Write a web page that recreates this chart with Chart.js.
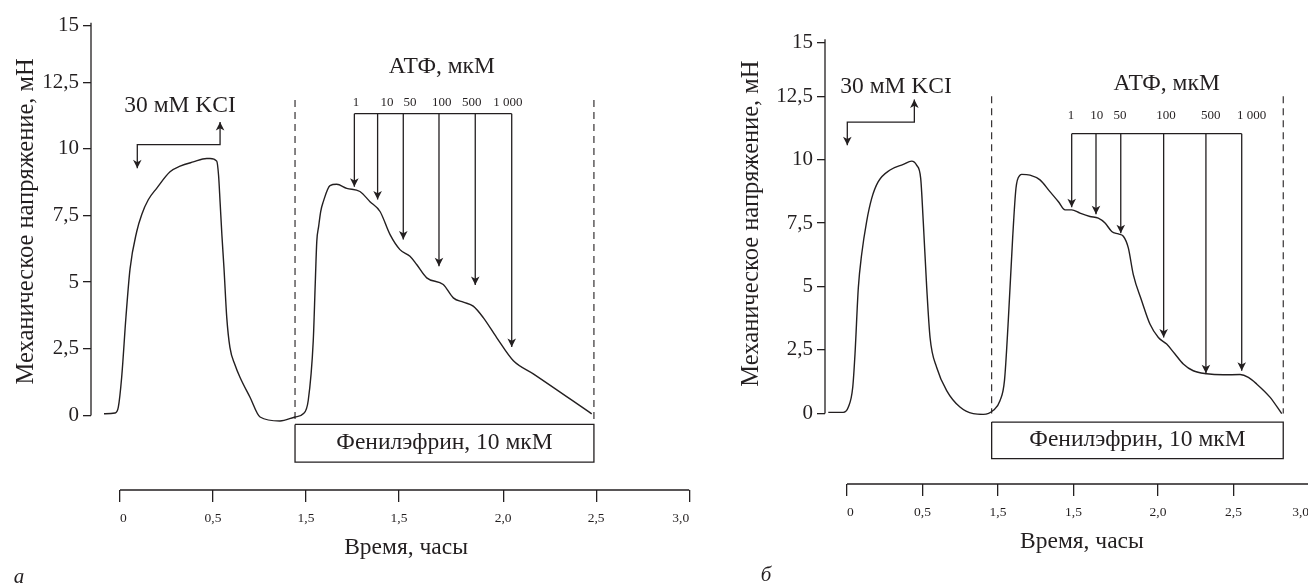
<!DOCTYPE html>
<html><head><meta charset="utf-8">
<script src="https://cdn.jsdelivr.net/npm/chart.js@4.4.1/dist/chart.umd.min.js"></script>
<style>
html,body{margin:0;padding:0;background:#fff;overflow:hidden;width:1308px;height:584px;position:relative;}
#wa{position:absolute;left:0;top:0;width:700px;height:584px;}
#wb{position:absolute;left:700px;top:0;width:620px;height:584px;}
</style></head><body>
<div id="wa"><canvas id="ca"></canvas></div>
<div id="wb"><canvas id="cb"></canvas></div>
<script>
// ---- tick labels ----
const xTickValues = [0, 0.5, 1.0, 1.5, 2.06, 2.56, 3.06];
const xTickLabels = ['0', '0,5', '1,5', '1,5', '2,0', '2,5', '3,0'];
const yTickValues = [0, 2.5, 5, 7.5, 10, 12.5, 14.62];
const yTickLabels = ['0', '2,5', '5', '7,5', '10', '12,5', '15'];
const atpConcLabels = ['1', '10', '50', '100', '500', '1 000'];

// ---- panel а : tension trace ----
const leftTime = [-0.086,-0.027,-0.009,0.009,0.032,0.054,0.090,0.117,0.152,0.197,0.269,0.323,0.394,0.466,0.484,0.520,0.530,0.538,0.548,0.559,0.574,0.591,0.618,0.645,0.699,0.753,0.860,0.941,0.985,1.012,1.039,1.050,1.058,1.068,1.079,1.093,1.129,1.165,1.219,1.290,1.344,1.398,1.452,1.505,1.559,1.595,1.649,1.738,1.792,1.846,1.899,1.953,2.025,2.115,2.222,2.536];
const leftTension = [0.06,0.09,0.31,1.43,3.69,5.5,6.90,7.54,8.09,8.52,9.14,9.35,9.51,9.64,9.64,9.54,9.0,8.02,6.75,5.53,3.67,2.55,1.9,1.43,0.68,-0.06,-0.21,-0.06,0.06,0.56,2.80,5.0,6.53,7.09,7.65,8.02,8.62,8.67,8.52,8.40,8.02,7.65,6.78,6.22,5.97,5.66,5.16,4.91,4.41,4.25,4.10,3.67,2.92,2.05,1.56,0.06];
const leftKclTime = [0.093, 0.538];
const leftPheTime = [0.941, 2.548];
const leftAtpTime = [1.260, 1.385, 1.523, 1.715, 1.910, 2.106];
const leftAtpTip = [8.58, 8.10, 6.60, 5.60, 4.89, 2.57];

// ---- panel б : tension trace ----
const rightTime = [-0.124,-0.025,0.009,0.038,0.053,0.075,0.097,0.130,0.164,0.207,0.285,0.373,0.428,0.461,0.488,0.505,0.528,0.550,0.594,0.660,0.748,0.836,0.903,0.969,1.013,1.043,1.068,1.097,1.119,1.146,1.157,1.212,1.278,1.344,1.399,1.444,1.488,1.543,1.609,1.664,1.709,1.753,1.797,1.830,1.863,1.896,1.952,2.007,2.062,2.117,2.172,2.227,2.293,2.382,2.492,2.603,2.658,2.713,2.801,2.879];
const rightTension = [0.04,0.04,0.25,1.03,2.34,4.95,6.26,7.56,8.48,9.13,9.59,9.81,9.94,9.78,9.26,7.56,4.95,2.99,1.81,0.90,0.25,-0.01,-0.04,0.12,0.5,1.3,3.64,6.91,8.87,9.39,9.42,9.39,9.20,8.74,8.35,8.02,8.02,7.89,7.76,7.69,7.50,7.17,7.07,6.98,6.52,5.47,4.43,3.51,2.99,2.73,2.34,1.95,1.68,1.56,1.52,1.53,1.42,1.16,0.64,-0.01];
const rightKclTime = [0.002, 0.446];
const rightPheTime = [0.958, 2.889];
const rightAtpTime = [1.488, 1.649, 1.813, 2.097, 2.377, 2.614];
const rightAtpTip = [8.12, 7.85, 7.10, 2.99, 1.58, 1.68];

const FONT = "'Liberation Serif', 'DejaVu Serif', serif";
const INK = '#231f20';
const BIG = 23.5, TITLE = 24.5;

const leftPanel = {
  time: leftTime, tension: leftTension, kclTime: leftKclTime, pheTime: leftPheTime,
  atpTime: leftAtpTime, atpTip: leftAtpTip,
  xMin: -0.15591, xMax: 3.06452, yMin: -2.799, yMax: 14.963,
  yAxisWidth: 91, xAxisHeight: 94, padRight: 10,
  dashTop: 11.83, dashBottom: -0.2, boxTop: -0.34, boxBottom: -1.75,
  atpBracketY: 11.32, concLabelY: 11.75, concLabelX: [1.269, 1.435, 1.559, 1.730, 1.891, 2.086],
  atpTitle: {x: 1.73, y: 13.06},
  kclBracketY: 10.16, kclDownTip: 9.27, kclUpTip: 11.01, kclText: {x: 0.323, y: 11.63},
  xTitleX: 1.538, xTitleDy: 58, yTitleDx: -64, yTitleY: 7.28,
  letter: 'а', letterX: 19, letterY: 577
};
const rightPanel = {
  time: rightTime, tension: rightTension, kclTime: rightKclTime, pheTime: rightPheTime,
  atpTime: rightAtpTime, atpTip: rightAtpTip,
  xMin: -0.14570, xMax: 3.09934, yMin: -2.782, yMax: 15.635,
  yAxisWidth: 125, xAxisHeight: 100, padRight: 5,
  dashTop: 12.5, dashBottom: 0, boxTop: -0.34, boxBottom: -1.78,
  atpBracketY: 11.02, concLabelY: 11.72, concLabelX: [1.483, 1.654, 1.808, 2.113, 2.409, 2.680],
  atpTitle: {x: 2.117, y: 12.98},
  kclBracketY: 11.48, kclDownTip: 10.57, kclUpTip: 12.37, kclText: {x: 0.325, y: 12.85},
  xTitleX: 1.556, xTitleDy: 58, yTitleDx: -73, yTitleY: 7.48,
  letter: 'б', letterX: 66, letterY: 575
};

function arrowHead(ctx, tx, ty, fx, fy) {
  let dx = tx - fx, dy = ty - fy;
  const len = Math.hypot(dx, dy) || 1; dx /= len; dy /= len;
  const L = 8.5, W = 4.3, N = 2.3;
  const bx = tx - dx * L, by = ty - dy * L, nx = -dy, ny = dx;
  ctx.beginPath();
  ctx.moveTo(tx, ty);
  ctx.lineTo(bx + nx * W, by + ny * W);
  ctx.lineTo(tx - dx * (L - N), ty - dy * (L - N));
  ctx.lineTo(bx - nx * W, by - ny * W);
  ctx.closePath();
  ctx.fill();
}

function makeDecor(P) {
  return {
    id: 'panelDecor',
    afterDatasetsDraw(chart) {
      const ctx = chart.ctx, xs = chart.scales.x, ys = chart.scales.y, ca = chart.chartArea;
      ctx.save();
      ctx.strokeStyle = INK; ctx.fillStyle = INK; ctx.lineWidth = 1.3;
      // axis lines
      ctx.beginPath();
      ctx.moveTo(ca.left, ys.getPixelForValue(yTickValues[0]));
      ctx.lineTo(ca.left, ys.getPixelForValue(yTickValues[yTickValues.length - 1]) - 3);
      ctx.moveTo(xs.getPixelForValue(xTickValues[0]), ca.bottom);
      ctx.lineTo(xs.getPixelForValue(xTickValues[xTickValues.length - 1]), ca.bottom);
      ctx.stroke();
      // arrowheads
      chart.data.datasets.forEach((ds, i) => {
        const pts = chart.getDatasetMeta(i).data;
        if (ds.arrowEnd) { const a = pts[pts.length - 1], b = pts[pts.length - 2]; arrowHead(ctx, a.x, a.y, b.x, b.y); }
        if (ds.arrowStart) { const a = pts[0], b = pts[1]; arrowHead(ctx, a.x, a.y, b.x, b.y); }
      });
      // texts
      ctx.textAlign = 'center'; ctx.textBaseline = 'middle';
      const X = v => xs.getPixelForValue(v), Y = v => ys.getPixelForValue(v);
      ctx.font = BIG + 'px ' + FONT;
      ctx.fillText('30 мМ KCI', X(P.kclText.x), Y(P.kclText.y));
      ctx.fillText('АТФ, мкМ', X(P.atpTitle.x), Y(P.atpTitle.y));
      ctx.fillText('Фенилэфрин, 10 мкМ', X((P.pheTime[0] + P.pheTime[1]) / 2), Y((P.boxTop + P.boxBottom) / 2));
      ctx.fillText('Время, часы', X(P.xTitleX), ca.bottom + P.xTitleDy);
      ctx.font = '13px ' + FONT;
      atpConcLabels.forEach((t, i) => ctx.fillText(t, X(P.concLabelX[i]), Y(P.concLabelY)));
      ctx.save();
      ctx.font = TITLE + 'px ' + FONT;
      ctx.translate(ca.left + P.yTitleDx, Y(P.yTitleY));
      ctx.rotate(-Math.PI / 2);
      ctx.fillText('Механическое напряжение, мН', 0, 0);
      ctx.restore();
      ctx.font = 'italic 21px ' + FONT;
      ctx.fillText(P.letter, P.letterX, P.letterY);
      ctx.restore();
    }
  };
}

function makeChart(id, P) {
  const line = (pts, extra) => Object.assign({data: pts, borderColor: INK, borderWidth: 1.3, pointRadius: 0, tension: 0, fill: false, clip: false}, extra || {});
  const ds = [];
  ds.push(line(P.time.map((t, i) => ({x: t, y: P.tension[i]})), {borderWidth: 1.4, cubicInterpolationMode: 'monotone'}));
  P.pheTime.forEach(t => ds.push(line([{x: t, y: P.dashTop}, {x: t, y: P.dashBottom}], {borderDash: [7, 5], borderWidth: 1.1})));
  const [p0, p1] = P.pheTime;
  ds.push(line([{x: p0, y: P.boxTop}, {x: p1, y: P.boxTop}, {x: p1, y: P.boxBottom}, {x: p0, y: P.boxBottom}, {x: p0, y: P.boxTop}]));
  ds.push(line([{x: P.atpTime[0], y: P.atpBracketY}, {x: P.atpTime[P.atpTime.length - 1], y: P.atpBracketY}]));
  P.atpTime.forEach((t, i) => ds.push(line([{x: t, y: P.atpBracketY}, {x: t, y: P.atpTip[i]}], {arrowEnd: true})));
  const [k0, k1] = P.kclTime;
  ds.push(line([{x: k0, y: P.kclDownTip}, {x: k0, y: P.kclBracketY}, {x: k1, y: P.kclBracketY}, {x: k1, y: P.kclUpTip}], {arrowStart: true, arrowEnd: true}));

  return new Chart(document.getElementById(id), {
    type: 'line',
    data: {datasets: ds},
    options: {
      responsive: true, maintainAspectRatio: false, animation: false, events: [],
      layout: {padding: {top: 14, right: P.padRight, left: 0, bottom: 0}},
      plugins: {legend: {display: false}, tooltip: {enabled: false}},
      scales: {
        x: {
          type: 'linear', min: P.xMin, max: P.xMax,
          afterFit: s => { s.height = P.xAxisHeight; },
          afterBuildTicks: s => { s.ticks = xTickValues.map(v => ({value: v})); },
          ticks: {callback: (v, i) => xTickLabels[i], align: 'inner', autoSkip: false, maxRotation: 0, minRotation: 0,
                  font: {family: FONT, size: 13.5}, color: INK, padding: 8},
          grid: {drawOnChartArea: false, drawTicks: true, tickLength: 12, color: INK, lineWidth: 1.3},
          border: {display: false}
        },
        y: {
          type: 'linear', min: P.yMin, max: P.yMax,
          afterFit: s => { s.width = P.yAxisWidth; },
          afterBuildTicks: s => { s.ticks = yTickValues.map(v => ({value: v})); },
          ticks: {callback: (v, i) => yTickLabels[i], autoSkip: false, font: {family: FONT, size: 21}, color: INK, padding: 4},
          grid: {drawOnChartArea: false, drawTicks: true, tickLength: 8, color: INK, lineWidth: 1.3},
          border: {display: false}
        }
      }
    },
    plugins: [makeDecor(P)]
  });
}

makeChart('ca', leftPanel);
makeChart('cb', rightPanel);
</script>
</body></html>
